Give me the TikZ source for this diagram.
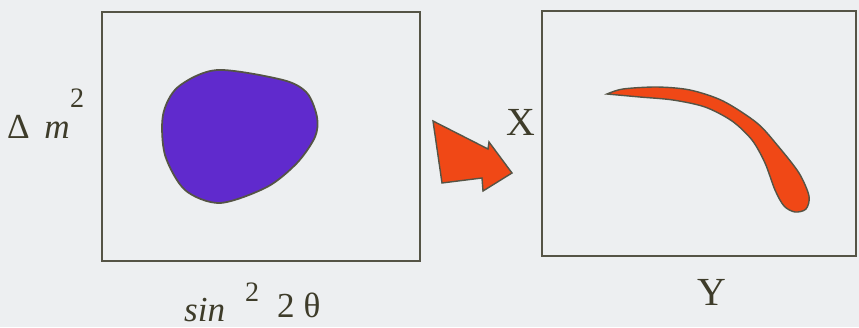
\documentclass[tikz,border=0pt]{standalone}
\usepackage[x11names]{xcolor}
\usepackage{fontspec}
\setmainfont{Liberation Serif}
\usepackage{tikz}
\usetikzlibrary{positioning}
\definecolor{paper}{RGB}{237,239,241}
\definecolor{edge}{RGB}{85,84,70}
\definecolor{ink}{RGB}{62,60,42}
\definecolor{blob}{RGB}{96,42,205}
\definecolor{flame}{RGB}{240,72,22}
\tikzset{
  frame/.style={draw=edge, line width=1.5pt},
  lbl/.style={inner sep=0pt, anchor=base west, text=ink, font=\fontsize{30}{32}\selectfont},
  sup/.style={lbl, font=\fontsize{24}{26}\selectfont},
  big/.style={lbl, font=\fontsize{34}{36}\selectfont},
}

\begin{document}
\begin{tikzpicture}[x=0.03cm,y=-0.03cm]
      \fill[paper] (0,0) rectangle (859,327);
      \useasboundingbox (0,0) rectangle (859,327);

      \draw[frame] (102,12) rectangle (420,261);
      \draw[frame] (542,11) rectangle (856,256);

      \filldraw[fill=blob, draw=edge, line width=1.5pt]
        plot[smooth cycle] coordinates {(217,70) (283,80) (307,93) (317,117) (315,137) (297,163) (267,187) (220,203) (185,190) (165,155) (163,115) (178,87)};

      \filldraw[fill=flame, draw=edge, line width=1.2pt]
        plot[smooth] coordinates {(607,94) (623,89) (657,87) (690,90) (723,101) (757,123) (778,146) (799,173) (809,196) (806,209) (795,212) (784,206) (775,190) (765,163) (752,140) (732,121) (705,107) (673,100) (640,97) (607,94)} -- cycle;

      \filldraw[fill=flame, draw=edge, line width=1.2pt]
        (433,121) -- (488,149) -- (489,142) -- (512,173) -- (483,191) -- (482,178) -- (442,183) -- cycle;

      \node[lbl] (dm) at (7,138) {Δ\, \textit{m}};
      \node[sup] (dmsq) at (70,107) {2};
      \node[lbl] (sinlbl) at (184,321) {\textit{sin}};
      \node[sup] (sinsq) at (245,301) {2};
      \node[lbl] (twotheta) at (277,317) {2 θ};
      \node[big] (X) at (506,135) {X};
      \node[big] (Y) at (697,305) {Y};
    \end{tikzpicture}
\end{document}
